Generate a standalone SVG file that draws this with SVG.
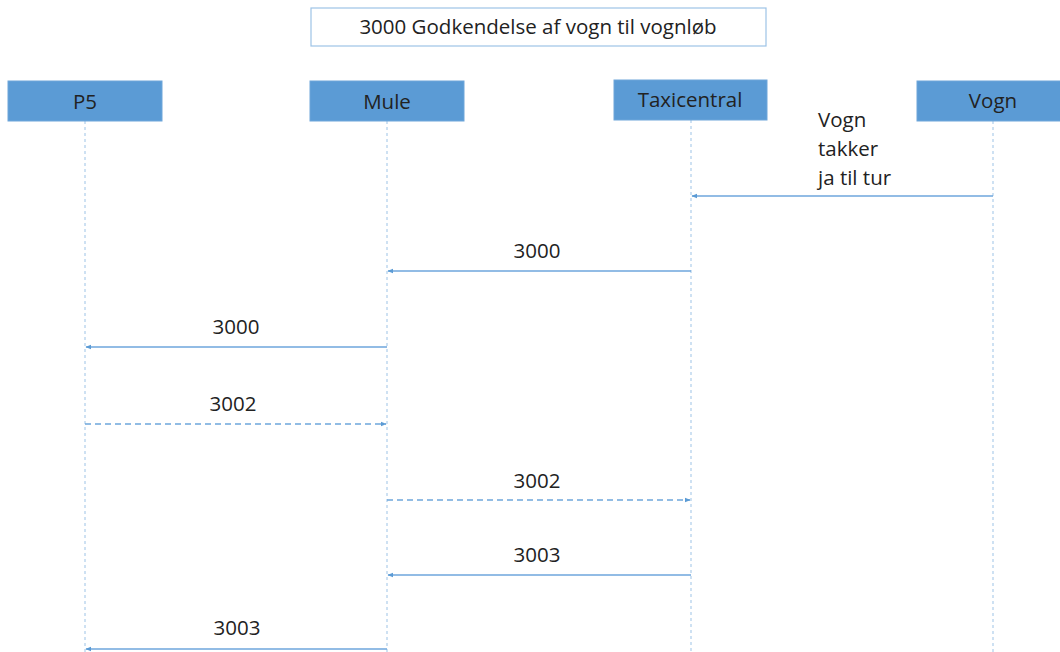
<svg xmlns="http://www.w3.org/2000/svg" width="1060" height="652" viewBox="0 0 1060 652">
  <style>
    .lbl { font-family: "Open Sans", "Liberation Sans", sans-serif; font-size: 20.5px; fill: #222; }
    .mid { text-anchor: middle; }
    .actor { fill: #5b9bd5; stroke: #6fa6da; stroke-width: 1; }
    .life { stroke: #9dc3e6; stroke-width: 1; stroke-dasharray: 3 3; fill: none; }
    .msg { stroke: #6ea6dc; stroke-width: 1.3; fill: none; }
    .reply { stroke-dasharray: 6 4; }
  </style>
  <defs>
    <marker id="head" viewBox="0 0 10 10" refX="9" refY="5" markerWidth="6" markerHeight="6" orient="auto-start-reverse" markerUnits="userSpaceOnUse">
      <path d="M0,1 L10,5 L0,9 z" fill="#5b9bd5"/>
    </marker>
  </defs>
  <rect width="1060" height="652" fill="#ffffff"/>

  <g id="title">
    <rect x="311" y="8" width="455" height="38" fill="#ffffff" stroke="#9dc3e6" stroke-width="1.2"/>
    <text class="lbl mid" x="538" y="34">3000 Godkendelse af vogn til vognløb</text>
  </g>

  <g id="lifelines">
    <line class="life" x1="85" y1="121" x2="85" y2="652"/>
    <line class="life" x1="387" y1="121" x2="387" y2="652"/>
    <line class="life" x1="691" y1="120" x2="691" y2="652"/>
    <line class="life" x1="993" y1="121" x2="993" y2="652"/>
  </g>

  <g id="actor-p5">
    <rect class="actor" x="8" y="81" width="154" height="40"/>
    <text class="lbl mid" x="85" y="109">P5</text>
  </g>
  <g id="actor-mule">
    <rect class="actor" x="310" y="81" width="154" height="40"/>
    <text class="lbl mid" x="387" y="109">Mule</text>
  </g>
  <g id="actor-taxicentral">
    <rect class="actor" x="614" y="80" width="153" height="40"/>
    <text class="lbl mid" x="690" y="107">Taxicentral</text>
  </g>
  <g id="actor-vogn">
    <rect class="actor" x="917" y="81" width="154" height="40"/>
    <text class="lbl mid" x="993" y="108">Vogn</text>
  </g>

  <g id="connectors">
    <line class="msg" x1="993" y1="196" x2="692" y2="196" marker-end="url(#head)"/>
    <line class="msg" x1="691" y1="271" x2="388" y2="271" marker-end="url(#head)"/>
    <line class="msg" x1="387" y1="347" x2="86" y2="347" marker-end="url(#head)"/>
    <line class="msg reply" x1="85" y1="424" x2="386" y2="424" marker-end="url(#head)"/>
    <line class="msg reply" x1="387" y1="500" x2="690" y2="500" marker-end="url(#head)"/>
    <line class="msg" x1="691" y1="575" x2="388" y2="575" marker-end="url(#head)"/>
    <line class="msg" x1="387" y1="649" x2="86" y2="649" marker-end="url(#head)"/>
  </g>

  <g id="labels">
    <text class="lbl" x="818" y="127">Vogn</text>
    <text class="lbl" x="818" y="156">takker</text>
    <text class="lbl" x="818" y="185">ja til tur</text>
    <text class="lbl mid" x="537" y="258">3000</text>
    <text class="lbl mid" x="236" y="334">3000</text>
    <text class="lbl mid" x="233" y="411">3002</text>
    <text class="lbl mid" x="537" y="488">3002</text>
    <text class="lbl mid" x="537" y="562">3003</text>
    <text class="lbl mid" x="237" y="635">3003</text>
  </g>
</svg>
